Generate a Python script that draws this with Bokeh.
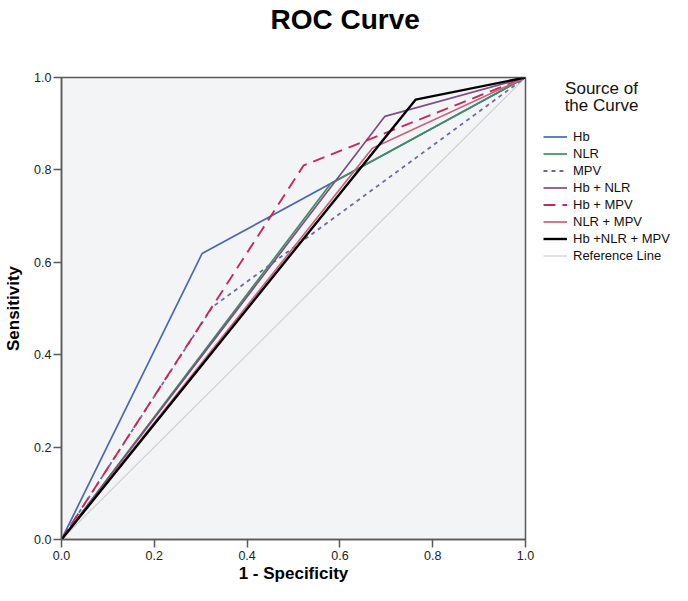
from bokeh.plotting import figure
from bokeh.layouts import row
from bokeh.models import Range1d, FixedTicker, PrintfTickFormatter, Legend, LegendItem, Label
from bokeh.embed import file_html
from bokeh.resources import INLINE

# ---- data ----
hb_x = [0.0, 0.303, 1.0]
hb_y = [0.0, 0.619, 1.0]
nlr_x = [0.0, 0.58, 1.0]
nlr_y = [0.0, 0.77, 1.0]
mpv_x = [0.0, 0.325, 1.0]
mpv_y = [0.0, 0.503, 1.0]
hb_nlr_x = [0.0, 0.697, 1.0]
hb_nlr_y = [0.0, 0.916, 1.0]
hb_mpv_x = [0.0, 0.522, 1.0]
hb_mpv_y = [0.0, 0.81, 1.0]
nlr_mpv_x = [0.0, 0.67, 1.0]
nlr_mpv_y = [0.0, 0.847, 1.0]
all_x = [0.0, 0.763, 1.0]
all_y = [0.0, 0.952, 1.0]
ref_x = [0.0, 1.0]
ref_y = [0.0, 1.0]
tick_values = [0.0, 0.2, 0.4, 0.6, 0.8, 1.0]

series_names = ["Hb", "NLR", "MPV", "Hb + NLR", "Hb + MPV", "NLR + MPV",
                "Hb +NLR + MPV", "Reference Line"]
series_data = {
    "Hb": (hb_x, hb_y),
    "NLR": (nlr_x, nlr_y),
    "MPV": (mpv_x, mpv_y),
    "Hb + NLR": (hb_nlr_x, hb_nlr_y),
    "Hb + MPV": (hb_mpv_x, hb_mpv_y),
    "NLR + MPV": (nlr_mpv_x, nlr_mpv_y),
    "Hb +NLR + MPV": (all_x, all_y),
    "Reference Line": (ref_x, ref_y),
}
draw_order = ["Reference Line", "Hb", "NLR", "MPV", "Hb + NLR", "Hb + MPV",
              "NLR + MPV", "Hb +NLR + MPV"]
legend_title_lines = ["Source of", "the Curve"]

FONT = "Liberation Sans"
W_MAIN = 540
W_LEG = 132
H = 585
F_LEFT, F_RIGHT, F_TOP, F_BOTTOM = 61, 525, 77, 540

styles = {
    "Hb": dict(line_color="#4b68b0", line_width=1.7),
    "NLR": dict(line_color="#3f8f5f", line_width=1.7),
    "MPV": dict(line_color="#6b6ba0", line_width=1.8, line_dash="4 4"),
    "Hb + NLR": dict(line_color="#7f4f80", line_width=1.7),
    "Hb + MPV": dict(line_color="#c42a5c", line_width=1.9, line_dash="12 7"),
    "NLR + MPV": dict(line_color="#c8627e", line_width=1.7),
    "Hb +NLR + MPV": dict(line_color="black", line_width=2.4),
    "Reference Line": dict(line_color="#d2d2d2", line_width=1.3),
}

p = figure(width=W_MAIN, height=H, output_backend="svg", toolbar_location=None,
           x_range=Range1d(0, 1), y_range=Range1d(0, 1))
p.min_border_left = F_LEFT
p.min_border_right = W_MAIN - F_RIGHT
p.min_border_top = F_TOP
p.min_border_bottom = H - F_BOTTOM
p.background_fill_color = "#f3f4f6"
p.border_fill_color = "white"
p.outline_line_color = "#5a5a5a"
p.outline_line_width = 1.5
p.xgrid.visible = False
p.ygrid.visible = False

# trailing empty line gives the title box the height needed to sit at the top of the page
p.title.text = "ROC Curve\n"
p.title.text_font = FONT
p.title.text_font_size = "28px"
p.title.text_font_style = "bold"
p.title.text_line_height = 1.3
p.title.align = "left"
p.title.offset = 209
p.title.vertical_align = "top"
p.title.standoff = 2
p.title.text_color = "black"

for ax in (p.xaxis[0], p.yaxis[0]):
    ax.ticker = FixedTicker(ticks=tick_values)
    ax.formatter = PrintfTickFormatter(format="%.1f")
    ax.minor_tick_line_color = None
    ax.major_tick_in = 0
    ax.major_tick_out = 8
    ax.major_tick_line_color = "#5a5a5a"
    ax.major_tick_line_width = 1.5
    ax.axis_line_color = "#5a5a5a"
    ax.axis_line_width = 1.5
    ax.major_label_text_font = FONT
    ax.major_label_text_font_size = "12.5px"
    ax.major_label_text_color = "#222222"
    ax.axis_label_text_font = FONT
    ax.axis_label_text_font_size = "17px"
    ax.axis_label_text_font_style = "bold"
    ax.axis_label_text_color = "black"

p.xaxis.axis_label = "1 - Specificity"
p.xaxis.major_label_standoff = 3
p.xaxis.axis_label_standoff = 1
p.yaxis.axis_label = "Sensitivity"
p.yaxis.major_label_standoff = 2
p.yaxis.axis_label_standoff = 8

for name in draw_order:
    xs, ys = series_data[name]
    p.line(xs, ys, **styles[name])

# ---- legend panel: a second figure whose data coordinates equal page pixels ----
q = figure(width=W_LEG, height=H, output_backend="svg", toolbar_location=None,
           x_range=Range1d(W_MAIN, W_MAIN + W_LEG), y_range=Range1d(F_BOTTOM, F_TOP),
           x_axis_type=None, y_axis_type=None)
q.min_border_left = 0
q.min_border_right = 0
q.min_border_top = F_TOP
q.min_border_bottom = H - F_BOTTOM
q.outline_line_color = None
q.background_fill_color = "white"
q.border_fill_color = "white"
q.xgrid.visible = False
q.ygrid.visible = False

items = []
for name in series_names:
    xs, ys = series_data[name]
    # same series, styled identically; it falls outside this panel's frame and only feeds the legend key
    r = q.line(xs, ys, **styles[name])
    items.append(LegendItem(label=name, renderers=[r]))

row_h = 17
legend_top = 128.5
legend_bottom_from_frame = (F_BOTTOM - F_TOP) - (legend_top - F_TOP) - row_h * len(series_names)
legend = Legend(items=items, location=(3, legend_bottom_from_frame))
legend.background_fill_alpha = 0
legend.border_line_color = None
legend.label_text_font = FONT
legend.label_text_font_size = "13px"
legend.label_text_color = "#111111"
legend.glyph_width = 24
legend.glyph_height = row_h
legend.label_height = row_h
legend.label_standoff = 6
legend.spacing = 0
legend.padding = 0
legend.margin = 0
q.add_layout(legend, "center")

for i, txt in enumerate(legend_title_lines):
    q.add_layout(Label(x=601, y=88 + 17 * i, text=txt, text_align="center",
                       text_baseline="middle", text_font=FONT, text_font_size="17px",
                       text_color="#111111"))

layout = row(p, q, spacing=0)
open("out.html", "w").write(file_html(layout, INLINE))
